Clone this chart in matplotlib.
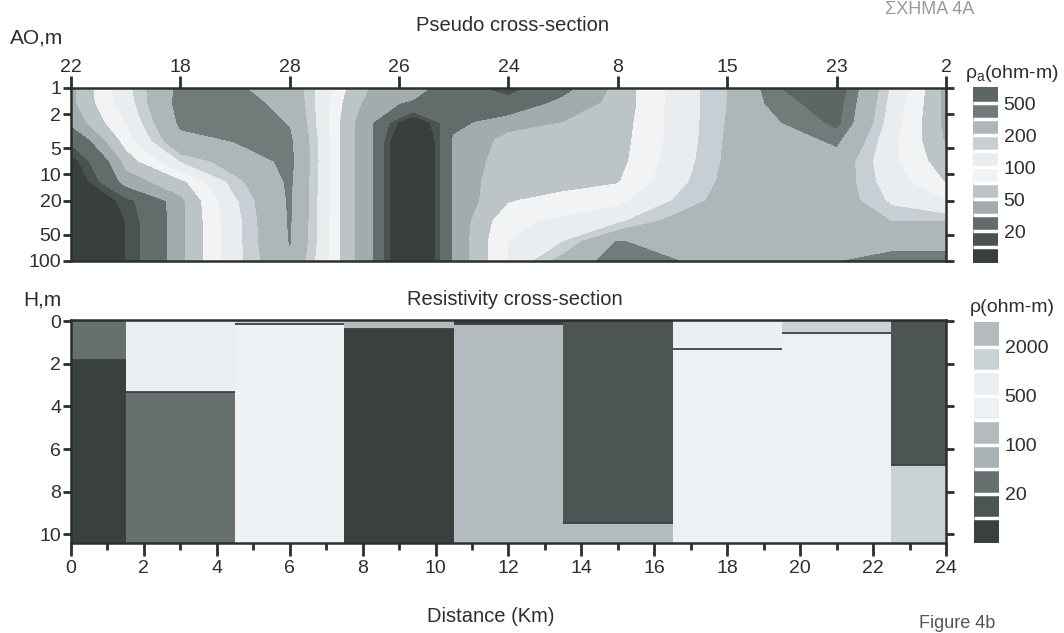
import numpy as np
import matplotlib
matplotlib.use("Agg")
import matplotlib.pyplot as plt
from matplotlib.colors import ListedColormap, BoundaryNorm
from matplotlib.cm import ScalarMappable
from matplotlib.ticker import FixedLocator, NullLocator

plt.rcParams['font.family'] = ['Liberation Sans Narrow', 'Liberation Sans', 'DejaVu Sans']

# --- Pseudo section: apparent resistivity (ohm-m) read along the profile ---
pseudo_x_km = [0, 1.5, 3, 4.5, 6, 7.5, 8.25, 9.375, 10.5, 12, 13.5, 15, 16.5, 18, 19.5, 21, 22.5, 24]
pseudo_ao = [1, 1.5, 2.5, 4, 7, 12, 20, 35, 60, 100]
# one list per position along the profile, shallow -> deep
rho_a = [
    [45, 45, 38, 22, 12, 9, 8, 8, 8, 8],
    [130, 120, 100, 80, 55, 42, 17, 15, 15, 15],
    [400, 420, 380, 300, 150, 62, 45, 45, 45, 45],
    [370, 420, 450, 360, 250, 175, 140, 130, 130, 130],
    [280, 300, 340, 380, 400, 380, 370, 365, 355, 320],
    [72, 65, 60, 60, 60, 60, 60, 60, 60, 60],
    [48, 42, 36, 36, 36, 36, 36, 36, 36, 36],
    [45, 32, 9, 5, 5, 5, 5, 5, 5, 5],
    [24, 24, 30, 38, 38, 38, 38, 38, 38, 38],
    [17, 24, 45, 55, 60, 65, 68, 90, 100, 100],
    [30, 40, 50, 55, 60, 62, 80, 110, 150, 240],
    [55, 55, 58, 60, 62, 68, 90, 140, 360, 450],
    [110, 110, 110, 110, 115, 125, 150, 230, 300, 360],
    [200, 200, 205, 210, 215, 225, 240, 260, 270, 280],
    [500, 450, 350, 280, 270, 260, 260, 270, 280, 300],
    [650, 600, 550, 380, 270, 260, 260, 270, 300, 340],
    [140, 130, 120, 110, 110, 120, 140, 200, 300, 420],
    [45, 45, 45, 48, 56, 68, 100, 200, 300, 430],
]
station_km = [0, 3, 6, 9, 12, 15, 18, 21, 24]
station_names = ['22', '18', '28', '26', '24', '8', '15', '23', '2']
ao_ticks = [1, 2, 5, 10, 20, 50, 100]

top_levels = [1, 15, 20, 35, 50, 70, 100, 150, 200, 350, 500, 5000]
top_colors = ['#383f3d', '#4a5351', '#636c6a', '#a3abaf', '#bcc4c8', '#f1f3f5',
              '#eaedf0', '#c8cfd4', '#aeb6ba', '#737b7a', '#5e6664']
top_cbar_ticks = [20, 50, 100, 200, 500]

# --- Resistivity section: layered model under each station ---
col_edges = [0, 1.5, 4.5, 7.5, 10.5, 13.5, 16.5, 19.5, 22.5, 24]
layer_depths = [
    [0, 1.82, 10.4],
    [0, 3.31, 10.4],
    [0, 0.15, 10.4],
    [0, 0.37, 10.4],
    [0, 0.15, 10.4],
    [0, 9.44, 10.4],
    [0, 1.29, 10.4],
    [0, 0.58, 10.4],
    [0, 6.75, 10.4],
]
layer_rho = [
    [30, 7],
    [700, 30],
    [1500, 300],
    [150, 7],
    [7, 150],
    [15, 150],
    [700, 300],
    [1500, 300],
    [15, 1500],
]
bot_levels = [1, 10, 20, 50, 100, 200, 500, 1000, 2000, 10000]
bot_colors = ['#39403e', '#4c5553', '#66706e', '#aab2b6', '#b4bbbf',
              '#eef1f4', '#ebeff2', '#cbd2d6', '#b4bbbf']
bot_cbar_ticks = [20, 100, 500, 2000]

W, H = 1064, 633
ink = '#2b2f2e'
fig = plt.figure(figsize=(W / 100, H / 100), dpi=100)


def frame(x0, y0, x1, y1):
    # pixel box (from top-left) -> figure fraction rect
    return [x0 / W, 1 - y1 / H, (x1 - x0) / W, (y1 - y0) / H]


ax_top = fig.add_axes(frame(71, 88, 946, 261))
ax_bot = fig.add_axes(frame(71, 320, 946, 543))
cax_top = fig.add_axes(frame(973, 87, 998, 263))
cax_bot = fig.add_axes(frame(974, 322, 999, 543))

# pseudo section, contoured in log space
X, Y = np.meshgrid(pseudo_x_km, pseudo_ao)
Z = np.log10(np.array(rho_a, dtype=float).T)
ax_top.contourf(X, Y, Z, levels=np.log10(top_levels), colors=top_colors)
ax_top.set_yscale('log')
ax_top.set_xlim(0, 24)
ax_top.set_ylim(100, 1)
ax_top.xaxis.set_major_locator(FixedLocator(station_km))
ax_top.set_xticklabels(station_names)
ax_top.yaxis.set_major_locator(FixedLocator(ao_ticks))
ax_top.yaxis.set_minor_locator(NullLocator())
ax_top.set_yticklabels([str(v) for v in ao_ticks])
ax_top.tick_params(axis='x', bottom=False, top=True, labelbottom=False, labeltop=True,
                   direction='out', length=9, width=2, pad=0, labelsize=14, colors=ink)
ax_top.tick_params(axis='y', left=True, right=True, labelright=False,
                   direction='out', length=6, width=2, pad=1, labelsize=14, colors=ink)

# layered resistivity section
bot_cmap = ListedColormap(bot_colors)
bot_norm = BoundaryNorm(bot_levels, len(bot_colors))
for i in range(len(col_edges) - 1):
    x0, x1 = col_edges[i], col_edges[i + 1]
    depths = layer_depths[i]
    for j, rho in enumerate(layer_rho[i]):
        ax_bot.bar((x0 + x1) / 2, depths[j + 1] - depths[j], bottom=depths[j],
                   width=x1 - x0, color=bot_cmap(bot_norm(rho)), linewidth=0)
    ax_bot.hlines(depths[1:-1], x0, x1, color='#3c4241', linewidth=1.3)
ax_bot.set_xlim(0, 24)
ax_bot.set_ylim(10.4, -0.05)
ax_bot.xaxis.set_major_locator(FixedLocator(range(0, 25, 2)))
ax_bot.xaxis.set_minor_locator(FixedLocator(range(1, 24, 2)))
ax_bot.yaxis.set_major_locator(FixedLocator(range(0, 11, 2)))
ax_bot.tick_params(axis='x', which='major', direction='out', length=9, width=2,
                   pad=3, labelsize=14, colors=ink)
ax_bot.tick_params(axis='x', which='minor', direction='out', length=5, width=2, colors=ink)
ax_bot.tick_params(axis='y', left=True, right=True, labelright=False,
                   direction='out', length=6, width=2, pad=1, labelsize=14, colors=ink)

for ax in (ax_top, ax_bot):
    for sp in ax.spines.values():
        sp.set_linewidth(1.8)
        sp.set_color(ink)

# colour keys
for cax, levels, colors, ticks in ((cax_top, top_levels, top_colors, top_cbar_ticks),
                                   (cax_bot, bot_levels, bot_colors, bot_cbar_ticks)):
    sm = ScalarMappable(norm=BoundaryNorm(levels, len(colors)), cmap=ListedColormap(colors))
    cb = fig.colorbar(sm, cax=cax, spacing='uniform', ticks=ticks, drawedges=True)
    cb.outline.set_visible(False)
    cb.dividers.set_color('white')
    cb.dividers.set_linewidth(2.5)
    cb.set_ticklabels([str(t) for t in ticks])
    cax.yaxis.set_minor_locator(NullLocator())
    cax.tick_params(which='both', left=False, right=False, length=0, pad=4,
                    labelsize=14, colors=ink)

# labels
fig.text(10 / W, 1 - 43 / H, 'AO,m', fontsize=15, color=ink, va='baseline')
fig.text(512 / W, 1 - 31 / H, 'Pseudo cross-section', fontsize=14.5, color=ink,
         ha='center', va='baseline')
fig.text(1012 / W, 1 - 78 / H, 'ρ$_\\mathregular{a}$(ohm-m)', fontsize=14,
         color=ink, ha='center', va='baseline')
fig.text(23 / W, 1 - 306 / H, 'H,m', fontsize=15, color=ink, va='baseline')
fig.text(515 / W, 1 - 305 / H, 'Resistivity cross-section', fontsize=14.5, color=ink,
         ha='center', va='baseline')
fig.text(1012 / W, 1 - 312 / H, 'ρ(ohm-m)', fontsize=14, color=ink,
         ha='center', va='baseline')
fig.text(491 / W, 1 - 622 / H, 'Distance (Km)', fontsize=14.5, color=ink,
         ha='center', va='baseline')
fig.text(930 / W, 1 - 14 / H, 'ΣΧΗΜΑ 4Α', fontsize=13, color='#9a9a9a',
         ha='center', va='baseline')
fig.text(957 / W, 1 - 628 / H, 'Figure 4b', fontsize=13, color='#555555',
         ha='center', va='baseline')

fig.savefig('out.png', dpi=100, facecolor='white')
